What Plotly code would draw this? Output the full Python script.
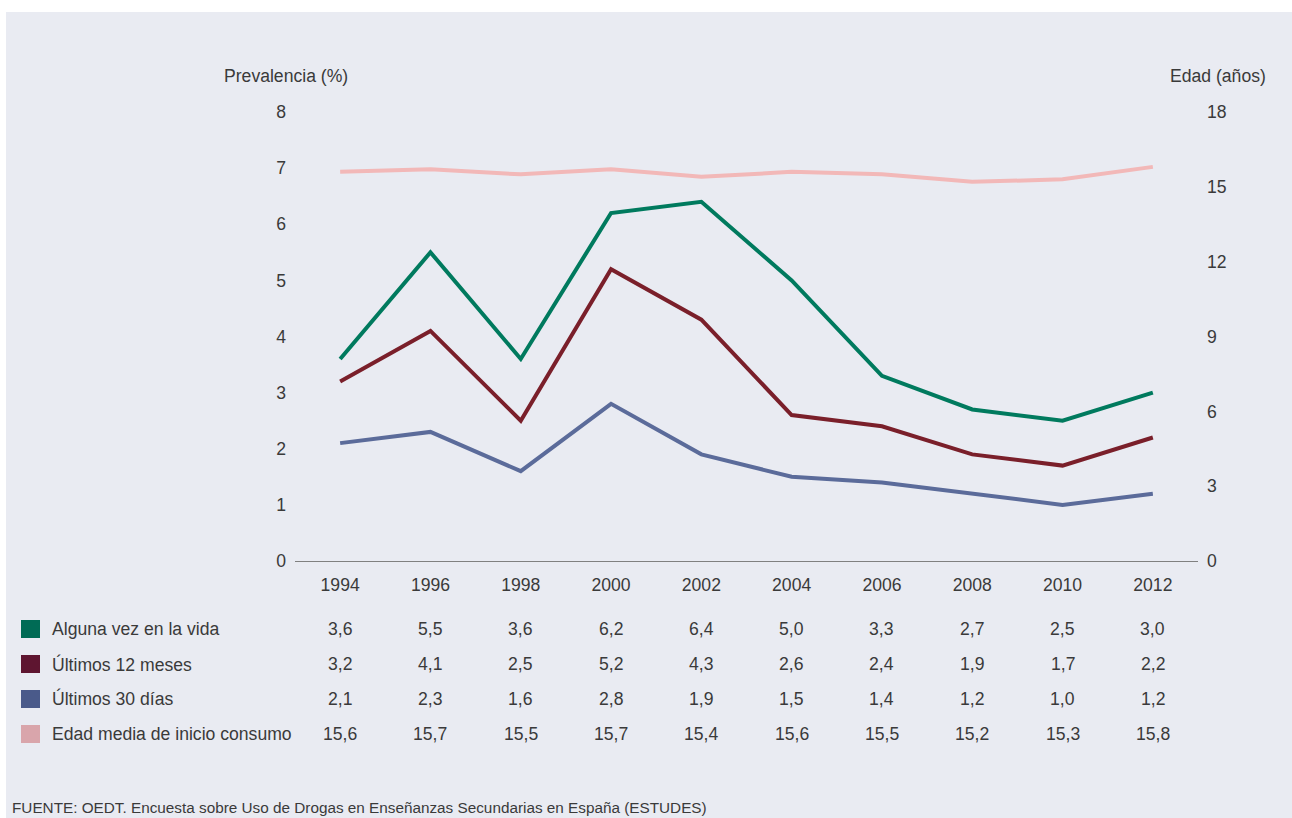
import plotly.graph_objects as go

years = [1994, 1996, 1998, 2000, 2002, 2004, 2006, 2008, 2010, 2012]
alguna_vez = [3.6, 5.5, 3.6, 6.2, 6.4, 5.0, 3.3, 2.7, 2.5, 3.0]
ultimos_12 = [3.2, 4.1, 2.5, 5.2, 4.3, 2.6, 2.4, 1.9, 1.7, 2.2]
ultimos_30 = [2.1, 2.3, 1.6, 2.8, 1.9, 1.5, 1.4, 1.2, 1.0, 1.2]
edad_media = [15.6, 15.7, 15.5, 15.7, 15.4, 15.6, 15.5, 15.2, 15.3, 15.8]

series_names = ["Alguna vez en la vida", "Últimos 12 meses", "Últimos 30 días",
                "Edad media de inicio consumo"]
line_colors = ["#007a5e", "#7a1f2a", "#5b6b9a", "#f2b8b8"]
square_colors = ["#006b55", "#5e1530", "#4a5a8a", "#d9a5ab"]

W, H = 1292, 818
L, R, T, B = 295, 94, 112, 257
pw, ph = W - L - R, H - T - B

def py(p):
    return (H - B - p) / ph

def px(p):
    return (p - L) / pw

FONT = "Liberation Sans, Arial, Helvetica, sans-serif"
TXT = "#3a3a3a"
FS = 17.6

fig = go.Figure()
all_series = [alguna_vez, ultimos_12, ultimos_30, edad_media]
for i, (name, vals) in enumerate(zip(series_names, all_series)):
    fig.add_trace(go.Scatter(
        x=years, y=vals, mode="lines", name=name,
        line=dict(color=line_colors[i], width=4),
        yaxis="y2" if i == 3 else "y", showlegend=False,
    ))

annotations = []
shapes = []
row_px = [629, 664, 699, 734]
for i, (name, vals) in enumerate(zip(series_names, all_series)):
    yp = py(row_px[i])
    shapes.append(dict(type="rect", xref="paper", yref="paper",
                       x0=px(21), x1=px(40), y0=py(row_px[i] - 9), y1=py(row_px[i] + 9),
                       fillcolor=square_colors[i], line=dict(width=0)))
    annotations.append(dict(xref="paper", yref="paper", x=px(50), y=yp,
                            text=name, showarrow=False, xanchor="left", yanchor="middle",
                            font=dict(family=FONT, size=FS, color=TXT)))
    for yr, v in zip(years, vals):
        annotations.append(dict(xref="x", yref="paper", x=yr, y=yp,
                                text=f"{v:.1f}".replace(".", ","), showarrow=False,
                                xanchor="center", yanchor="middle",
                                font=dict(family=FONT, size=FS, color=TXT)))

annotations.append(dict(xref="paper", yref="paper", x=px(286), y=py(76),
                        text="Prevalencia (%)", showarrow=False, xanchor="center",
                        yanchor="middle", font=dict(family=FONT, size=FS, color=TXT)))
annotations.append(dict(xref="paper", yref="paper", x=px(1218), y=py(76),
                        text="Edad (años)", showarrow=False, xanchor="center",
                        yanchor="middle", font=dict(family=FONT, size=FS, color=TXT)))
annotations.append(dict(xref="paper", yref="paper", x=px(10), y=py(807),
                        text="FUENTE: OEDT. Encuesta sobre Uso de Drogas en Enseñanzas Secundarias en España (ESTUDES)",
                        showarrow=False, xanchor="left", yanchor="middle",
                        font=dict(family=FONT, size=15.3, color=TXT)))

# white outer margins (top and left)
shapes.append(dict(type="rect", xref="paper", yref="paper", x0=px(0), x1=px(W + 5),
                   y0=py(12), y1=py(-5), fillcolor="white", line=dict(width=0), layer="below"))
shapes.append(dict(type="rect", xref="paper", yref="paper", x0=px(-5), x1=px(6),
                   y0=py(H + 5), y1=py(-5), fillcolor="white", line=dict(width=0), layer="below"))

fig.update_layout(
    width=W, height=H,
    margin=dict(l=L, r=R, t=T, b=B, autoexpand=False),
    paper_bgcolor="#e9ebf2", plot_bgcolor="#e9ebf2",
    font=dict(family=FONT, size=FS, color=TXT),
    xaxis=dict(range=[1993, 2013], tickvals=years, ticktext=[str(y) for y in years],
               showgrid=False, zeroline=False, showline=True, linecolor="#808080",
               linewidth=1, ticks="", ticklabelstandoff=8,
               tickfont=dict(family=FONT, size=FS, color=TXT)),
    yaxis=dict(range=[0, 8], tickvals=list(range(0, 9)), showgrid=False, zeroline=False,
               showline=False, ticks="", ticklabelstandoff=8,
               tickfont=dict(family=FONT, size=FS, color=TXT)),
    yaxis2=dict(range=[0, 18], tickvals=[0, 3, 6, 9, 12, 15, 18], overlaying="y",
                side="right", showgrid=False, zeroline=False, showline=False, ticks="",
                ticklabelstandoff=8, tickfont=dict(family=FONT, size=FS, color=TXT)),
    annotations=annotations, shapes=shapes, showlegend=False,
)

fig.write_html("out.html", config={"displayModeBar": False},
               post_script="document.body.style.margin='0';document.body.style.overflow='hidden';")
